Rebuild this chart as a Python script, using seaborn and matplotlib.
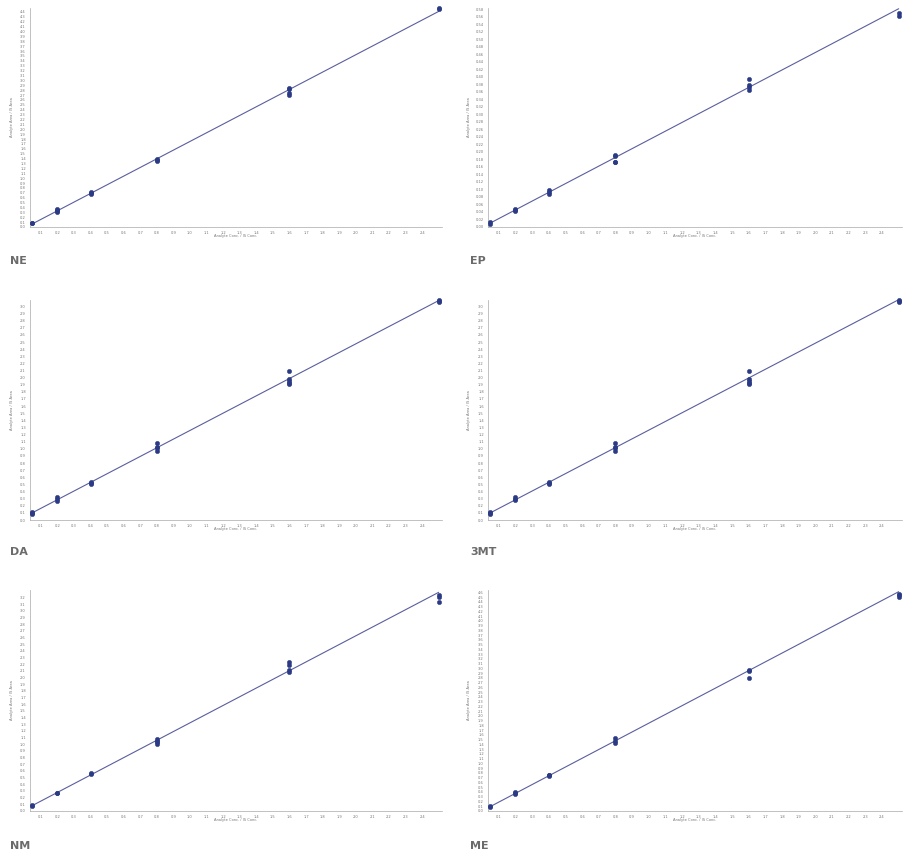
import numpy as np
import pandas as pd
import matplotlib
matplotlib.use("Agg")
import matplotlib.pyplot as plt
import seaborn as sns

# Calibration data: analyte/IS concentration levels and replicate area ratios
conc_levels = [0.05, 0.2, 0.4, 0.8, 1.6, 2.5]

analytes = ["NE", "EP", "DA", "3MT", "NM", "ME"]

ne_ratio = [[0.09, 0.085], [0.37, 0.35, 0.33, 0.31], [0.71, 0.69, 0.675],
            [1.40, 1.38, 1.36], [2.84, 2.82, 2.74, 2.70], [4.47, 4.46]]
ep_ratio = [[0.0125, 0.009], [0.049, 0.046, 0.043], [0.098, 0.094, 0.089],
            [0.193, 0.189, 0.174, 0.172], [0.394, 0.378, 0.372, 0.366], [0.571, 0.562]]
da_ratio = [[0.117, 0.10, 0.089], [0.318, 0.30, 0.27], [0.53, 0.515, 0.50],
            [1.08, 1.02, 1.005, 0.97], [2.09, 1.98, 1.95, 1.925, 1.91], [3.09, 3.075, 3.06]]
mt_ratio = [[0.115, 0.10, 0.088], [0.32, 0.30, 0.275], [0.53, 0.52, 0.505],
            [1.08, 1.025, 1.005, 0.97], [2.09, 1.98, 1.95, 1.93, 1.91], [3.09, 3.08, 3.06]]
nm_ratio = [[0.09, 0.075], [0.275, 0.27], [0.575, 0.55],
            [1.085, 1.055, 1.03, 1.01], [2.23, 2.18, 2.105, 2.08], [3.23, 3.2, 3.125]]
me_ratio = [[0.105, 0.084], [0.40, 0.38, 0.365], [0.765, 0.75, 0.735],
            [1.545, 1.47, 1.44], [2.965, 2.94, 2.79], [4.57, 4.55, 4.50]]

all_ratios = [ne_ratio, ep_ratio, da_ratio, mt_ratio, nm_ratio, me_ratio]

# weighting exponent of the calibration fit (0 = none, 2 = 1/x^2)
fit_weight_power = [0, 2, 2, 2, 2, 2]

y_top_tick = [4.4, 0.58, 3.0, 3.0, 3.2, 4.6]
y_step = [0.1, 0.02, 0.1, 0.1, 0.1, 0.1]
y_limit = [4.48, 0.583, 3.09, 3.09, 3.31, 4.65]
y_decimals = [1, 2, 1, 1, 1, 1]
x_tick_labels = [f"{v / 10:.1f}" for v in range(1, 25)]

# panel placement in pixels (left, right, top, bottom) on a 907x858 canvas
W, H = 907, 858
rows_px = [(8, 227), (300, 520), (590, 811)]
cols_px = [(30, 442), (488, 902)]
label_base_px = [264, 555, 849]
label_x_px = [10, 470]

point_color = "#2a3a84"
line_color = "#5a5e9e"

sns.set_style("white")
plt.rcParams["font.family"] = ["DejaVu Sans"]

fig = plt.figure(figsize=(W / 100, H / 100), dpi=100)

for i, name in enumerate(analytes):
    r, c = divmod(i, 2)
    top, bottom = rows_px[r]
    left, right = cols_px[c]
    ax = fig.add_axes([left / W, 1 - bottom / H, (right - left) / W, (bottom - top) / H])

    rows = []
    for conc, reps in zip(conc_levels, all_ratios[i]):
        for val in reps:
            rows.append({"conc": conc, "ratio": val})
    df = pd.DataFrame(rows)

    # weighted linear calibration line
    w = 1 / df["conc"] ** (fit_weight_power[i] / 2)
    slope, intercept = np.polyfit(df["conc"], df["ratio"], 1, w=w)
    fit = pd.DataFrame({"conc": [min(conc_levels), max(conc_levels)]})
    fit["ratio"] = slope * fit["conc"] + intercept
    sns.lineplot(data=fit, x="conc", y="ratio", color=line_color, linewidth=0.8, ax=ax)

    sns.scatterplot(data=df, x="conc", y="ratio", color=point_color, s=10,
                    edgecolor=point_color, linewidth=0.3, ax=ax, clip_on=False, zorder=3)

    xt = [float(v) for v in x_tick_labels]
    ax.set_xticks(xt)
    ax.set_xticklabels(x_tick_labels)
    ax.set_xlim(0.035, 2.52)

    n = int(round(y_top_tick[i] / y_step[i])) + 1
    yt = [k * y_step[i] for k in range(n)]
    ax.set_yticks(yt)
    ax.set_yticklabels([f"{v:.{y_decimals[i]}f}" for v in yt])
    ax.set_ylim(0, y_limit[i])

    for side in ["top", "right"]:
        ax.spines[side].set_visible(False)
    for side in ["left", "bottom"]:
        ax.spines[side].set_color("#a8a8a8")
        ax.spines[side].set_linewidth(0.5)

    ax.tick_params(axis="both", which="major", labelsize=2.6, length=2, width=0.4,
                   color="#a8a8a8", labelcolor="#777777", pad=1, direction="out")
    ax.set_xlabel("Analyte Conc. / IS Conc.", fontsize=2.6, color="#777777")
    ax.set_ylabel("Analyte Area / IS Area", fontsize=2.6, color="#777777")
    ax.xaxis.set_label_coords(0.5, -0.03)
    ax.yaxis.set_label_coords(-0.04, 0.5)
    ax.grid(False)

    fig.text(label_x_px[c] / W, 1 - label_base_px[r] / H, name, fontsize=8,
             fontweight="bold", color="#6b6b6b", ha="left", va="baseline")

fig.savefig("out.png", dpi=100, facecolor="white")
